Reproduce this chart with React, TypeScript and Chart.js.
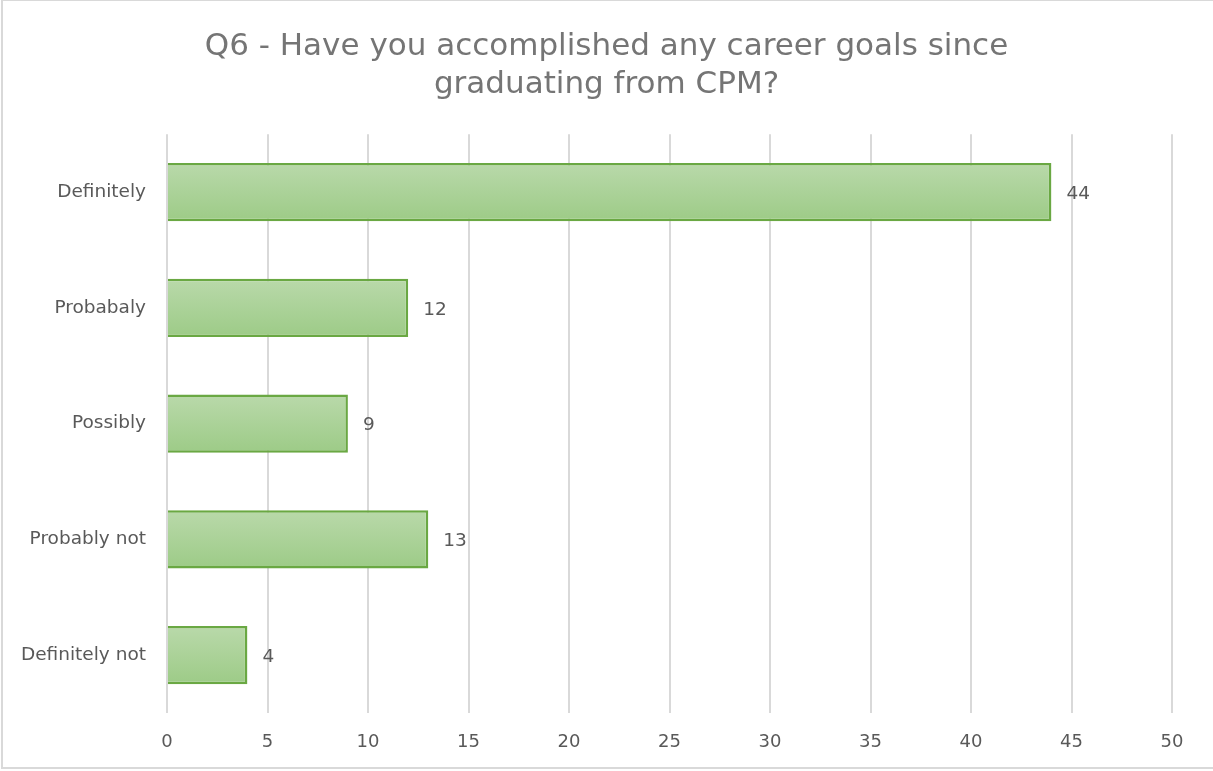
import React, { useEffect, useRef } from "react";
import { Chart, registerables } from "chart.js";

Chart.register(...registerables);

const titleLines = ["Q6 - Have you accomplished any career goals since", "graduating from CPM?"];
const categories = ["Definitely", "Probabaly", "Possibly", "Probably not", "Definitely not"];
const counts = [44, 12, 9, 13, 4];
const axisMin = 0;
const axisMax = 50;
const axisStep = 5;

const FONT = "'DejaVu Sans', sans-serif";
const TEXT_GREY = "#595959";

const valueLabels = {
  id: "valueLabels",
  afterDatasetsDraw(chart: any) {
    const ctx = chart.ctx;
    const meta = chart.getDatasetMeta(0);
    ctx.save();
    ctx.font = `18.5px ${FONT}`;
    ctx.fillStyle = TEXT_GREY;
    ctx.textAlign = "left";
    ctx.textBaseline = "middle";
    meta.data.forEach((el: any, i: number) => {
      ctx.fillText(String(chart.data.datasets[0].data[i]), el.x + 15, el.y + 2);
    });
    ctx.restore();
  },
};

export default function App() {
  const ref = useRef<HTMLCanvasElement | null>(null);

  useEffect(() => {
    if (!ref.current) return;
    const chart = new Chart(ref.current, {
      type: "bar",
      data: {
        labels: categories,
        datasets: [
          {
            data: counts,
            backgroundColor: (c: any) => {
              const ch = c.chart;
              const ys = ch.scales && ch.scales.y;
              if (c.type !== "data" || !ys || !ch.chartArea) return "#aad296";
              const yc = ys.getPixelForValue(c.dataIndex);
              const band = (ys.bottom - ys.top) / categories.length;
              const half = band * 0.25;
              const g = ch.ctx.createLinearGradient(0, yc - half, 0, yc + half);
              g.addColorStop(0, "#b9d9aa");
              g.addColorStop(1, "#9dcb87");
              return g;
            },
            borderColor: "#6aa843",
            borderWidth: 2.5,
            borderSkipped: "start",
            categoryPercentage: 1,
            barPercentage: 0.505,
          },
        ],
      },
      options: {
        indexAxis: "y",
        responsive: false,
        maintainAspectRatio: false,
        animation: false,
        layout: { padding: { left: 0, right: 0, top: 0, bottom: 0 } },
        plugins: {
          legend: { display: false },
          tooltip: { enabled: false },
          title: {
            display: true,
            text: titleLines,
            color: "#757575",
            font: { family: FONT, size: 31, weight: "normal", lineHeight: 1.23 },
            padding: { top: 28, bottom: 30 },
          },
        },
        scales: {
          x: {
            min: axisMin,
            max: axisMax,
            ticks: {
              stepSize: axisStep,
              color: TEXT_GREY,
              font: { family: FONT, size: 18 },
              padding: 19,
            },
            grid: { color: "#d9d9d9", lineWidth: 2, drawTicks: false },
            border: { display: false },
            afterFit: (s: any) => {
              s.height = 58;
            },
          },
          y: {
            ticks: {
              color: TEXT_GREY,
              font: { family: FONT, size: 18.5 },
              padding: 21,
            },
            grid: { display: false, drawTicks: false },
            border: { display: false },
            afterFit: (s: any) => {
              s.width = 167;
            },
          },
          yRight: {
            type: "linear",
            position: "right",
            display: true,
            ticks: { display: false },
            grid: { display: false, drawTicks: false },
            border: { display: false },
            afterFit: (s: any) => {
              s.width = 41;
            },
          },
        },
      },
      plugins: [valueLabels],
    });
    return () => chart.destroy();
  }, []);

  return (
    <div
      style={{
        position: "fixed",
        left: 0,
        top: 0,
        width: 1213,
        height: 771,
        overflow: "hidden",
        background: "#ffffff",
      }}
    >
      <canvas ref={ref} width={1213} height={771} style={{ display: "block" }} />
      <div
        style={{
          position: "absolute",
          left: 1,
          top: -1,
          width: 1230,
          height: 766,
          border: "2px solid #d9d9d9",
          pointerEvents: "none",
        }}
      />
    </div>
  );
}
